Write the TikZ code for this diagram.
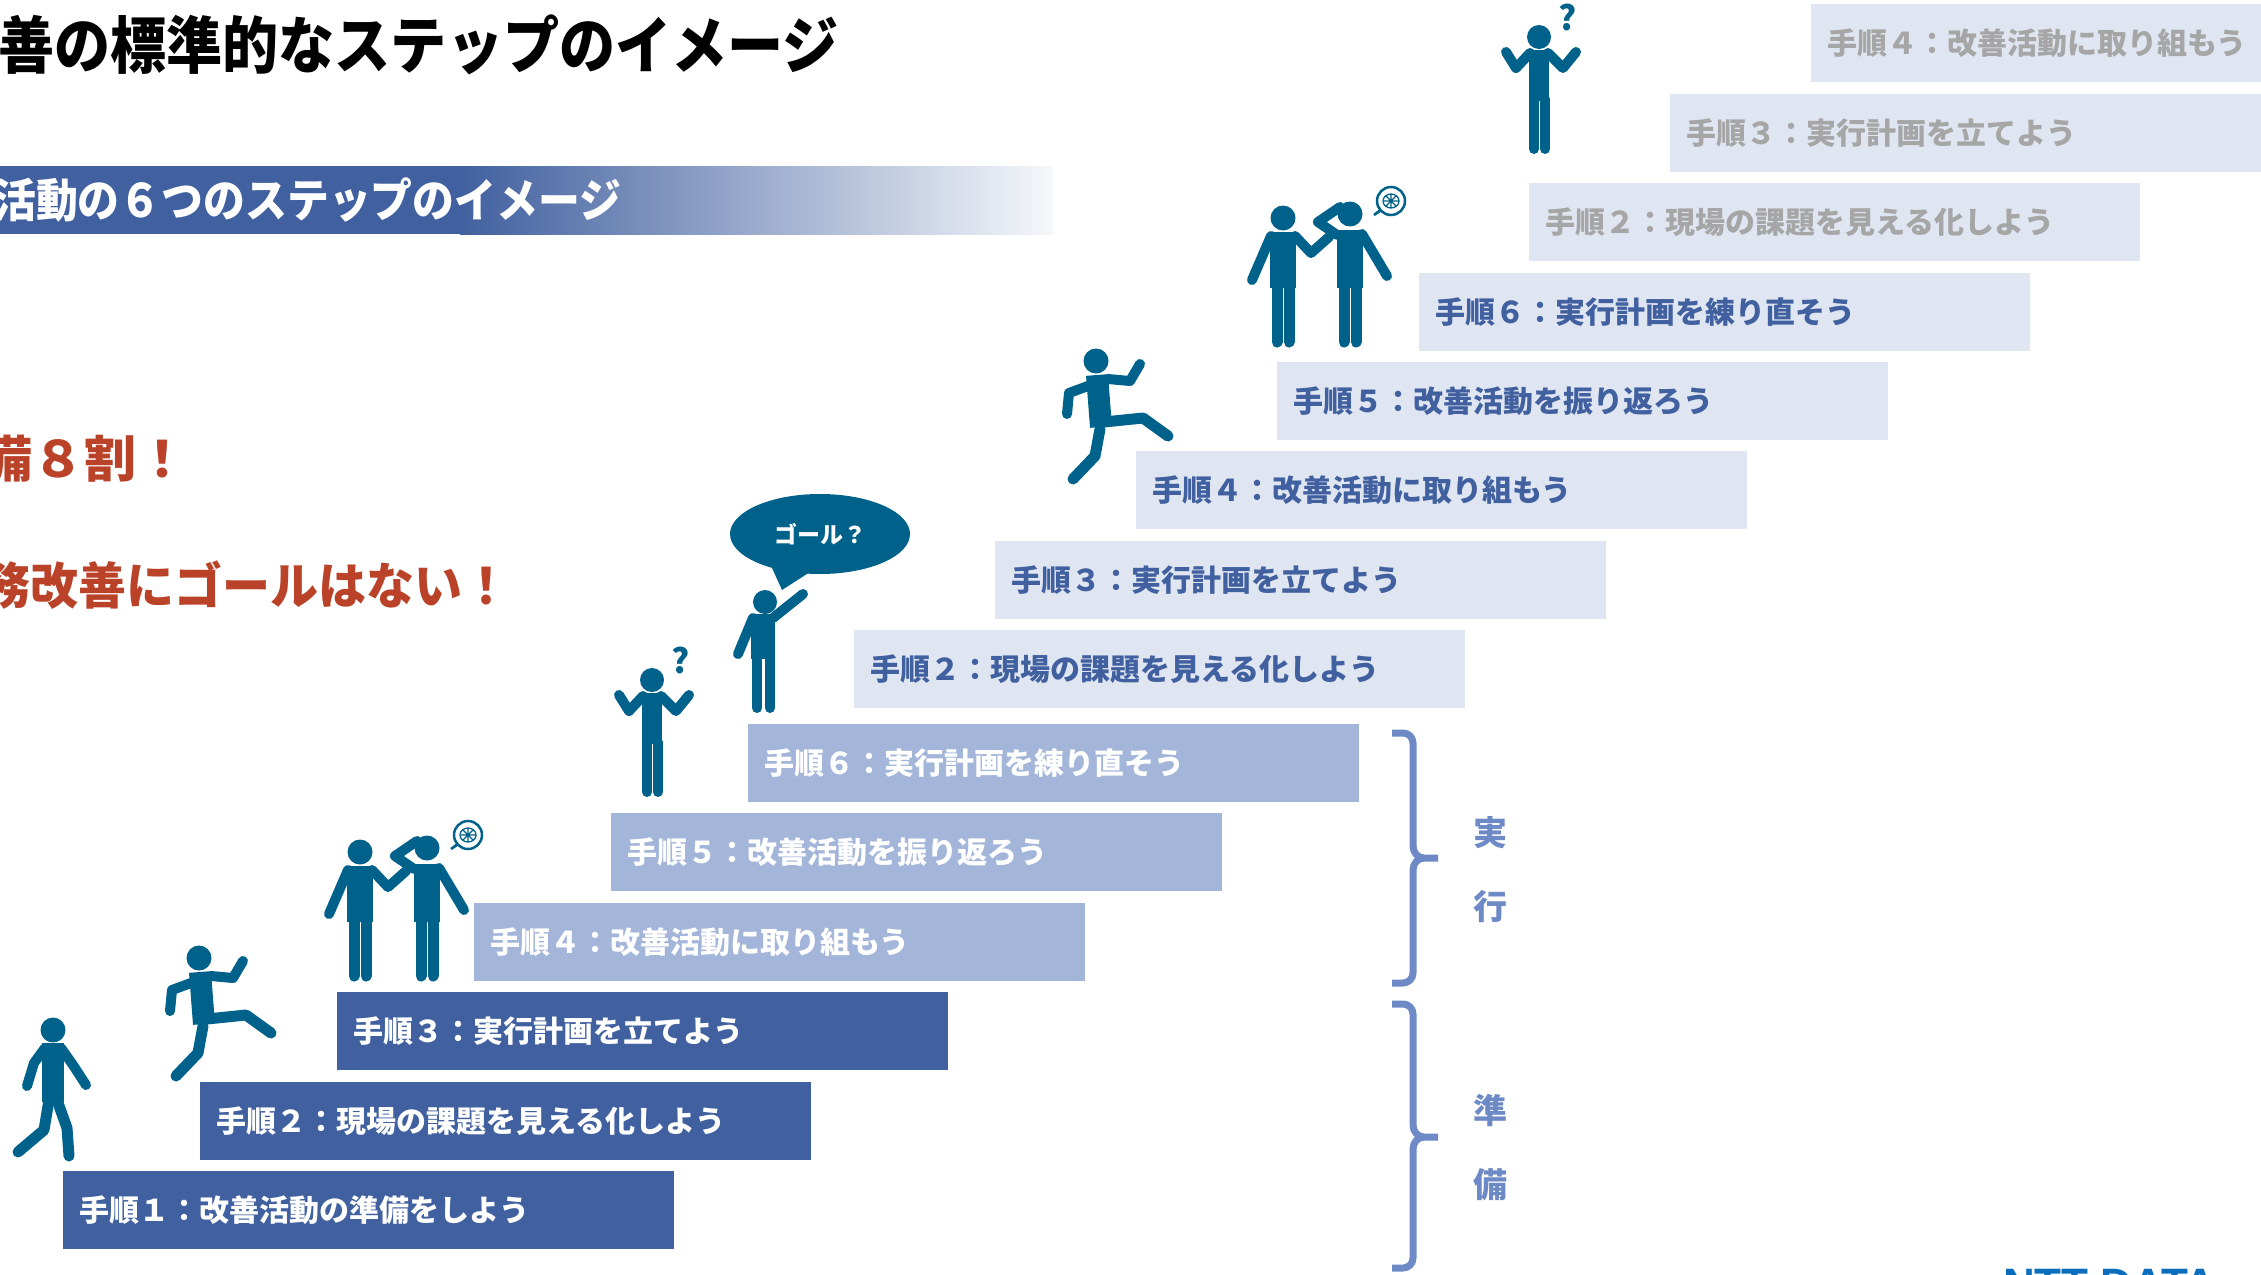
\documentclass[tikz,border=0pt]{standalone}
\usepackage{fontspec}
\usepackage{graphicx}
\setmainfont{Noto Sans CJK JP}
\newfontfamily\logofont{Liberation Sans}
\usetikzlibrary{positioning}
\usetikzlibrary{shapes.geometric}

\definecolor{stepdark}{HTML}{41609F}
\definecolor{stepmid}{HTML}{A3B5D9}
\definecolor{steppale}{HTML}{DFE5F1}
\definecolor{greytext}{HTML}{A6A6A6}
\definecolor{figteal}{HTML}{00628B}
\definecolor{bracecol}{HTML}{6D8AC6}
\definecolor{alertred}{HTML}{BA4228}
\definecolor{logoblue}{HTML}{0A6EBD}

\begin{document}
\begin{tikzpicture}[
  x=1pt, y=-1pt,
  stepbox/.style = {anchor=north west, minimum height=78pt, inner xsep=16pt,
    inner ysep=0pt, text width=579pt, align=left,
    font=\bfseries\fontsize{30}{30}\selectfont},
  dark/.style  = {stepbox, fill=stepdark, text=white},
  mid/.style   = {stepbox, fill=stepmid, text=white},
  pale/.style  = {stepbox, fill=steppale, text=stepdark},
  faded/.style = {stepbox, fill=steppale, text=greytext},
  limb/.style  = {draw=figteal, line width=10pt, line cap=round, line join=round},
  leg/.style   = {limb, line width=11pt},
  torso/.style = {draw=figteal, line width=22pt},
  brace/.style = {draw=bracecol, line width=7pt, line join=round},
  phase/.style = {text=bracecol, font=\bfseries\fontsize{34}{34}\selectfont},
  alert/.style = {anchor=west, inner sep=0pt, text=alertred,
    font=\bfseries\fontsize{50}{50}\selectfont},
  % little people
  walker/.pic = {
    \fill[figteal] (0,0) circle[radius=12.5pt];
    \draw[torso] (0,13) -- (0,72);
    \draw[limb] (-8,18) -- (-19,33) -- (-26,56);
    \draw[limb] (8,18) -- (20,35) -- (33,55);
    \draw[leg] (-4,70) -- (-9,100) -- (-35,122);
    \draw[leg] (4,70) -- (14,98) -- (16,126);
  },
  runner/.pic = {
    \fill[figteal] (0,0) circle[radius=12.5pt];
    \draw[torso] (1,14) -- (5,66);
    \draw[limb] (-8,25) -- (-27,32) -- (-29,53);
    \draw[limb] (12,18) -- (34,20) -- (44,3);
    \draw[leg] (8,61) -- (47,57) -- (72,75);
    \draw[leg] (4,68) -- (-1,95) -- (-23,118);
  },
  shrug/.pic = {
    \fill[figteal] (0,0) circle[radius=12pt];
    \draw[torso, line width=20pt] (0,13) -- (0,64);
    \draw[limb] (-9,16) -- (-23,31) -- (-33,15);
    \draw[limb] (9,16) -- (24,31) -- (37,15);
    \draw[leg, line width=10pt] (-5,62) -- (-5,112);
    \draw[leg, line width=10pt] (6,62) -- (6,112);
    \node[text=figteal, font=\bfseries\fontsize{34}{34}\selectfont] (q) at (29,-20) {?};
  },
  pointing/.pic = {
    \fill[figteal] (0,0) circle[radius=12pt];
    \draw[torso, line width=24pt] (-2,12) -- (-2,57);
    \draw[limb] (-12,16) -- (-27,52);
    \draw[limb] (8,16) -- (38,-8);
    \draw[leg, line width=10pt] (-8,55) -- (-8,106);
    \draw[leg, line width=10pt] (5,55) -- (5,106);
  },
  pair/.pic = {
    \fill[figteal] (0,0) circle[radius=12.5pt];
    \draw[torso, line width=26pt] (0,14) -- (0,70);
    \draw[leg] (-6,66) -- (-6,124);
    \draw[leg] (6,66) -- (6,124);
    \draw[limb] (-12,18) -- (-31,62);
    \draw[limb] (12,18) -- (28,35) -- (46,19);
    \fill[figteal] (67,-4) circle[radius=12.5pt];
    \draw[torso, line width=26pt] (67,12) -- (67,70);
    \draw[leg] (61,66) -- (61,124);
    \draw[leg] (73,66) -- (73,124);
    \draw[limb] (79,16) -- (104,58);
    \draw[limb] (54,17) -- (35,4) -- (57,-11);
    % thought bubble
    \draw[figteal, line width=2.5pt, fill=white] (97,-7) -- (91,-3) -- (100,-10);
    \draw[figteal, line width=2.5pt, fill=white] (108,-17) circle[radius=14pt];
    \draw[figteal, line width=1.3pt] (108,-17) ellipse[x radius=8pt, y radius=7pt]
      (101,-17) -- (115,-17) (108,-24) -- (108,-10) (103,-22) -- (113,-12) (103,-12) -- (113,-22);
  }
]

  \clip (0,0) rectangle (2261,1274);

  % headings
  \node[anchor=west, inner sep=0pt, font=\bfseries\fontsize{62}{62}\selectfont] (title)
    at (-2,45) {\scalebox{0.905}[1]{善の標準的なステップのイメージ}};
  \fill[stepdark] (0,166) rectangle (460,234);
  \shade[left color=stepdark, right color=stepdark!5] (460,166) rectangle (1053,234);
  \node[anchor=west, inner sep=0pt, text=white, font=\bfseries\fontsize{46}{46}\selectfont] (sub)
    at (-6,200) {\scalebox{0.91}[1]{活動の６つのステップのイメージ}};

  \node[alert] (prep)   at (-20,459) {\scalebox{1.04}[1]{備８割！}};
  \node[alert] (nogoal) at (-18,585) {\scalebox{0.96}[1]{務改善にゴールはない！}};

  % first round
  \node[dark] (a1) at (63,1171)  {手順１：改善活動の準備をしよう};
  \node[dark] (a2) at (200,1082) {手順２：現場の課題を見える化しよう};
  \node[dark] (a3) at (337,992)  {手順３：実行計画を立てよう};
  \node[mid]  (a4) at (474,903)  {手順４：改善活動に取り組もう};
  \node[mid]  (a5) at (611,813)  {手順５：改善活動を振り返ろう};
  \node[mid]  (a6) at (748,724)  {手順６：実行計画を練り直そう};

  % second round
  \node[pale] (b2) at (854,630)  {手順２：現場の課題を見える化しよう};
  \node[pale] (b3) at (995,541)  {手順３：実行計画を立てよう};
  \node[pale] (b4) at (1136,451) {手順４：改善活動に取り組もう};
  \node[pale] (b5) at (1277,362) {手順５：改善活動を振り返ろう};
  \node[pale] (b6) at (1419,273) {手順６：実行計画を練り直そう};

  % third round
  \node[faded] (c2) at (1529,183) {手順２：現場の課題を見える化しよう};
  \node[faded] (c3) at (1670,94)  {手順３：実行計画を立てよう};
  \node[faded] (c4) at (1811,4)   {手順４：改善活動に取り組もう};

  % people on the stairs
  \pic at (53,1030) {walker};
  \pic at (199,958) {runner};
  \pic at (360,852) {pair};
  \pic at (652,680) {shrug};
  \pic at (765,602) {pointing};
  \pic at (1096,361) {runner};
  \pic at (1283,218) {pair};
  \pic at (1539,37) {shrug};

  \fill[figteal] (772,568) -- (810,572) -- (782,590) -- cycle;
  \node[ellipse, fill=figteal, minimum width=180pt, minimum height=80pt, text=white,
    font=\bfseries\fontsize{23}{23}\selectfont] (goal) at (820,534) {ゴール？};

  % phases
  \draw[brace] (1392,733) -- (1403,733) to[out=0,in=90] (1413,743) -- (1413,846)
    to[out=-90,in=180] (1424,858) -- (1438,858);
  \draw[brace] (1424,858) to[out=180,in=90] (1413,870) -- (1413,973)
    to[out=-90,in=0] (1403,983) -- (1392,983);
  \draw[brace] (1392,1004) -- (1403,1004) to[out=0,in=90] (1413,1014) -- (1413,1125)
    to[out=-90,in=180] (1424,1137) -- (1438,1137);
  \draw[brace] (1424,1137) to[out=180,in=90] (1413,1149) -- (1413,1258)
    to[out=-90,in=0] (1403,1268) -- (1392,1268);

  \node[phase] (p1) at (1490,833)  {実};
  \node[phase] (p2) at (1490,907)  {行};
  \node[phase] (p3) at (1490,1110) {準};
  \node[phase] (p4) at (1490,1185) {備};

  \node[anchor=north west, inner sep=0pt, text=logoblue,
    font=\logofont\bfseries\fontsize{44}{44}\selectfont] (logo) at (2003,1269) {NTT DATA};

\end{tikzpicture}
\end{document}
